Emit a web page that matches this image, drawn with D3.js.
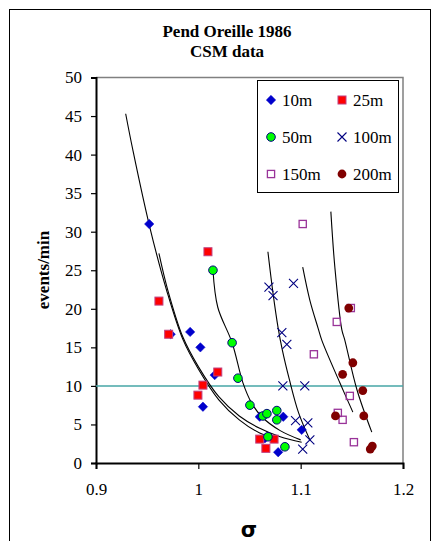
<!DOCTYPE html>
<html>
<head>
<meta charset="utf-8">
<script src="https://cdn.jsdelivr.net/npm/d3@7"></script>
<style>
  body { margin: 0; background: #fff; }
  svg text { font-family: "Liberation Serif", "Times New Roman", Times, serif; }
</style>
</head>
<body>
<script>
// sigma vs events/min, one array per depth
const d10 = [[0.952,31.0],[0.973,16.7],[0.992,17.0],[1.002,15.0],[1.016,11.4],[1.0045,7.3],
             [1.060,6.0],[1.065,3.2],[1.078,1.4],[1.083,6.0],[1.101,4.3]];
const d25 = [[1.0094,27.4],[0.9615,21.0],[0.971,16.7],[1.019,11.8],[1.0045,10.1],[0.9996,8.8],
             [1.060,3.1],[1.066,1.9],[1.074,3.1]];
const d50 = [[1.0143,25.0],[1.033,15.6],[1.0387,11.0],[1.0504,7.5],[1.063,6.1],[1.067,6.4],
             [1.0767,6.8],[1.0767,5.6],[1.068,3.4],[1.0846,2.1]];
const d100 = [[1.069,22.8],[1.073,21.7],[1.093,23.3],[1.0816,16.9],[1.0865,15.4],[1.0826,10.0],
              [1.104,10.0],[1.095,5.5],[1.107,5.2],[1.109,3.0],[1.102,1.8]];
const d150 = [[1.102,31.0],[1.149,20.1],[1.1353,18.3],[1.1129,14.1],[1.148,8.7],[1.1363,6.5],
              [1.141,5.6],[1.152,2.7]];
const d200 = [[1.147,20.1],[1.151,13.0],[1.141,11.5],[1.1607,9.4],[1.134,6.1],[1.1617,6.1],
              [1.168,1.8],[1.170,2.2]];

// model curves
const c10 = [[0.929,45.3],[0.936,40.6],[0.952,30.9],[0.969,22.4],[0.985,16.0],[1.0,12.2],
             [1.02,8.2],[1.04,5.6],[1.06,3.9],[1.075,3.3]];
const c25 = [[0.9615,27.2],[0.97,22.5],[0.985,16.3],[1.0,12.5],[1.02,8.6],[1.04,6.1],
             [1.06,4.5],[1.08,3.4],[1.101,2.7]];
const c50 = [[1.0143,25.0],[1.019,20.2],[1.033,15.6],[1.0436,10.4],[1.052,7.8],[1.062,6.0],
             [1.08,4.2],[1.1,3.0]];
const c100 = [[1.068,27.4],[1.073,22.0],[1.078,17.5],[1.082,14.7],[1.089,10.8],[1.098,6.5],[1.109,3.0]];
const c150 = [[1.102,25.4],[1.109,21.1],[1.117,17.5],[1.1207,15.9],[1.1383,10.4],[1.151,6.6]];
const c200 = [[1.1295,32.6],[1.1334,25.4],[1.1402,17.3],[1.143,16.0],[1.155,9.5],[1.1695,4.0]];

const xTicks = [0.9, 1.0, 1.1, 1.2];
const xTickLabels = ["0.9", "1", "1.1", "1.2"];
const yTicks = [0, 5, 10, 15, 20, 25, 30, 35, 40, 45, 50];
const threshold = 10;

const legendNames = ["10m", "25m", "50m", "100m", "150m", "200m"];

const W = 436, H = 541;
const plotL = 96, plotR = 403, plotT = 77.5, plotB = 463;
const serif = "'Liberation Serif', 'Times New Roman', Times, serif";
const fs = 17;

const svg = d3.select("body").append("svg")
    .attr("width", W)
    .attr("height", H);

// outer chart frame
svg.append("rect")
    .attr("x", 9.5).attr("y", 9.5)
    .attr("width", 421).attr("height", 545)
    .attr("fill", "#fff").attr("stroke", "#000").attr("stroke-width", 1);

svg.append("text").attr("x", 227).attr("y", 37)
    .attr("text-anchor", "middle").attr("font-weight", "bold").attr("font-size", fs)
    .style("font-family", serif)
    .text("Pend Oreille 1986");
svg.append("text").attr("x", 227).attr("y", 57)
    .attr("text-anchor", "middle").attr("font-weight", "bold").attr("font-size", fs)
    .style("font-family", serif)
    .text("CSM data");

const x = d3.scaleLinear().domain([0.9, 1.2]).range([plotL, plotR]);
const y = d3.scaleLinear().domain([0, 50]).range([plotB, plotT]);

// plot area border (gray top / right)
svg.append("path")
    .attr("d", `M${plotL},${plotT}H${plotR}V${plotB}`)
    .attr("fill", "none").attr("stroke", "#808080").attr("stroke-width", 1.5);

// axes
const yAxis = svg.append("g")
    .attr("transform", `translate(${plotL},0)`)
    .call(d3.axisLeft(y).tickValues(yTicks).tickSize(5).tickPadding(9).tickFormat(d3.format("d")));
const xAxis = svg.append("g")
    .attr("transform", `translate(0,${plotB})`)
    .call(d3.axisBottom(x).tickValues(xTicks).tickSize(6).tickPadding(14)
      .tickFormat((d, i) => xTickLabels[i]));

[xAxis, yAxis].forEach(g => {
  g.attr("font-family", null);
  g.select(".domain").attr("stroke", "#000").attr("stroke-width", 2);
  g.selectAll(".tick line").attr("stroke", "#000").attr("stroke-width", 1.2);
  g.selectAll("text").attr("font-size", fs).attr("fill", "#000")
    .style("font-family", serif);
});

// axis titles
svg.append("text")
    .attr("transform", `translate(49,270) rotate(-90)`)
    .attr("text-anchor", "middle").attr("font-weight", "bold").attr("font-size", fs)
    .style("font-family", serif)
    .text("events/min");
svg.append("text").attr("x", 249).attr("y", 537)
    .attr("text-anchor", "middle").attr("font-weight", "bold").attr("font-size", 21)
    .style("font-family", "'DejaVu Sans', sans-serif")
    .text("σ");

// threshold line
svg.append("line")
    .attr("x1", x(0.9)).attr("x2", x(1.2))
    .attr("y1", y(threshold)).attr("y2", y(threshold))
    .attr("stroke", "#46a6a6").attr("stroke-width", 1.5);

// curves
const line = d3.line()
    .x(d => x(d[0])).y(d => y(d[1]))
    .curve(d3.curveCatmullRom.alpha(0.5));
[c10, c25, c50, c100, c150, c200].forEach(c => {
  svg.append("path").datum(c)
    .attr("d", line)
    .attr("fill", "none").attr("stroke", "#000").attr("stroke-width", 1.1);
});

// marker painters
const markers = {
  "10m": (g) => g.append("path").attr("d", d3.symbol(d3.symbolSquare, 44)())
      .attr("transform", "rotate(45)").attr("fill", "#0000cc").attr("stroke", "#0000cc").attr("stroke-width", 0.5),
  "25m": (g) => g.append("rect").attr("x", -4).attr("y", -4).attr("width", 8).attr("height", 8)
      .attr("fill", "#ff0000").attr("stroke", "#c04080").attr("stroke-width", 1),
  "50m": (g) => g.append("circle").attr("r", 4.3)
      .attr("fill", "#00ff00").attr("stroke", "#000080").attr("stroke-width", 1),
  "100m": (g) => g.append("path").attr("d", "M-4.5,-4.5L4.5,4.5M-4.5,4.5L4.5,-4.5")
      .attr("fill", "none").attr("stroke", "#000080").attr("stroke-width", 1.1),
  "150m": (g) => g.append("rect").attr("x", -3.6).attr("y", -3.6).attr("width", 7.2).attr("height", 7.2)
      .attr("fill", "none").attr("stroke", "#993399").attr("stroke-width", 1.3),
  "200m": (g) => g.append("circle").attr("r", 4.4).attr("fill", "#800000")
};

const series = [d10, d25, d50, d100, d150, d200];
series.forEach((data, i) => {
  const name = legendNames[i];
  svg.append("g").selectAll("g")
    .data(data)
    .enter().append("g")
      .attr("transform", d => `translate(${x(d[0])},${y(d[1])})`)
      .each(function() { markers[name](d3.select(this)); });
});

// legend
const legend = svg.append("g");
legend.append("rect")
    .attr("x", 257.5).attr("y", 80.5).attr("width", 141).attr("height", 112)
    .attr("fill", "#fff").attr("stroke", "#000").attr("stroke-width", 1);
legendNames.forEach((name, i) => {
  const col = i % 2, row = Math.floor(i / 2);
  const mx = col === 0 ? 271 : 342;
  const my = 100 + row * 37;
  const g = legend.append("g").attr("transform", `translate(${mx},${my})`);
  markers[name](g);
  legend.append("text")
    .attr("x", mx + 11).attr("y", my + 6)
    .attr("font-size", fs)
    .style("font-family", serif)
    .text(name);
});
</script>
</body>
</html>
